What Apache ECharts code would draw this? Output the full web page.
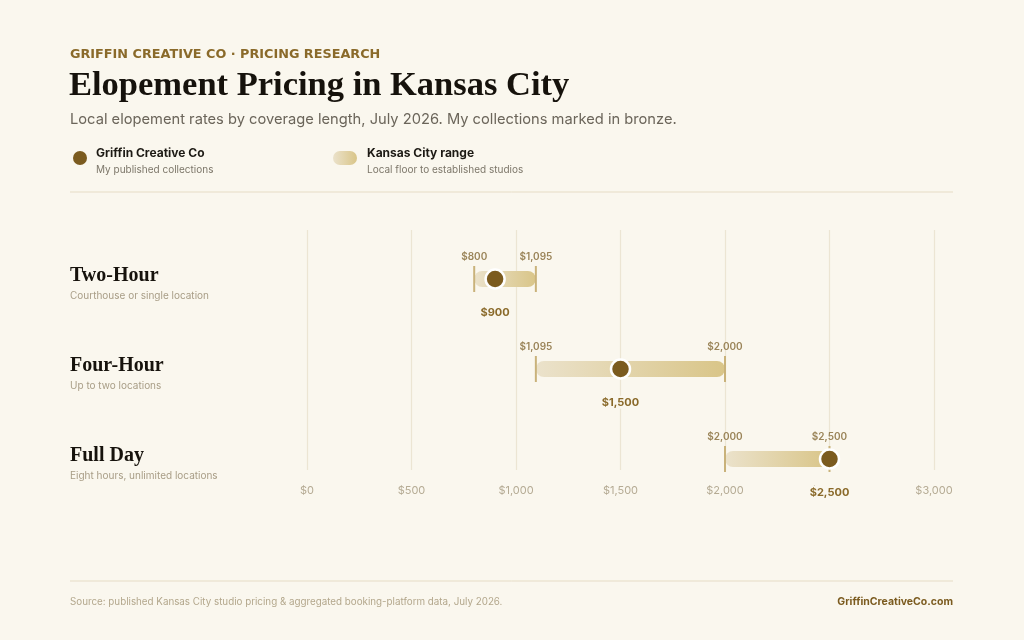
<!DOCTYPE html>
<html><head><meta charset="utf-8">
<script src="https://cdn.jsdelivr.net/npm/echarts@6/dist/echarts.min.js"></script>
<style>html,body{margin:0;padding:0;background:#faf7ee;}#c{width:1024px;height:640px;}</style>
</head><body><div id="c"></div>
<script>
const tiers = ['Two-Hour', 'Four-Hour', 'Full Day'];
const tierNotes = ['Courthouse or single location', 'Up to two locations', 'Eight hours, unlimited locations'];
const rangeLow = [800, 1095, 2000];
const rangeHigh = [1095, 2000, 2500];
const myPrice = [900, 1500, 2500];
const xTicks = [0, 500, 1000, 1500, 2000, 2500, 3000];

const SANS = 'Inter, "DejaVu Sans", sans-serif';
const SERIF = '"Liberation Serif", "DejaVu Serif", serif';
const BRONZE = '#7b5b1f';
const fmt = v => '$' + v.toLocaleString('en-US');
const capGrad = () => new echarts.graphic.LinearGradient(0, 0, 1, 0, [
  { offset: 0, color: '#ebe2cb' }, { offset: 1, color: '#d9c588' }]);

const chart = echarts.init(document.getElementById('c'), null, { renderer: 'canvas' });

const rangeData = tiers.map((t, i) => [i, rangeLow[i], rangeHigh[i]]);
const dotData = tiers.map((t, i) => [myPrice[i], i]);

chart.setOption({
  backgroundColor: '#faf7ee',
  animation: false,
  grid: { left: 307, right: 90, top: 230, bottom: 170 },
  xAxis: {
    type: 'value', min: xTicks[0], max: xTicks[xTicks.length - 1], interval: 500,
    axisLine: { show: false }, axisTick: { show: false },
    splitLine: { show: true, lineStyle: { color: '#ece5d3', width: 1.2 } },
    axisLabel: { color: '#b5ab94', fontFamily: SANS, fontSize: 11, margin: 15, formatter: v => fmt(v) }
  },
  yAxis: { type: 'value', inverse: true, min: -0.5444, max: 2.1222, show: false },
  graphic: [
    { type: 'text', left: 70, top: 48, style: { text: 'GRIFFIN CREATIVE CO · PRICING RESEARCH', fill: '#8a6a2a', font: 'bold 12.8px "DejaVu Sans", sans-serif' } },
    { type: 'text', left: 69, top: 69, style: { text: 'Elopement Pricing in Kansas City', fill: '#16120c', font: 'bold 34.5px ' + SERIF } },
    { type: 'text', left: 70, top: 112, style: { text: 'Local elopement rates by coverage length, July 2026. My collections marked in bronze.', fill: '#6b655a', font: '14.7px ' + SANS } },
    { type: 'circle', shape: { cx: 80, cy: 158, r: 7 }, style: { fill: BRONZE } },
    { type: 'text', left: 96, top: 147, style: { text: 'Griffin Creative Co', fill: '#1d1a14', font: 'bold 12px ' + SANS } },
    { type: 'text', left: 96, top: 165, style: { text: 'My published collections', fill: '#7d776a', font: '10px ' + SANS } },
    { type: 'rect', shape: { x: 333, y: 151, width: 24, height: 14, r: 7 }, style: { fill: capGrad() } },
    { type: 'text', left: 367, top: 147, style: { text: 'Kansas City range', fill: '#1d1a14', font: 'bold 12px ' + SANS } },
    { type: 'text', left: 367, top: 165, style: { text: 'Local floor to established studios', fill: '#7d776a', font: '10px ' + SANS } },
    { type: 'line', shape: { x1: 70, y1: 192, x2: 953, y2: 192 }, style: { stroke: '#e6dcc5', lineWidth: 1 } },
    { type: 'line', shape: { x1: 70, y1: 581, x2: 953, y2: 581 }, style: { stroke: '#e6dcc5', lineWidth: 1 } },
    { type: 'text', left: 70, top: 597, style: { text: 'Source: published Kansas City studio pricing & aggregated booking-platform data, July 2026.', fill: '#b3a78c', font: '9.8px ' + SANS } },
    { type: 'text', right: 71, top: 596, style: { text: 'GriffinCreativeCo.com', fill: BRONZE, font: 'bold 10.5px ' + SANS } }
  ],
  series: [
    {
      type: 'custom',
      data: rangeData,
      encode: { x: [1, 2], y: 0 },
      renderItem: function (params, api) {
        const i = api.value(0);
        const p0 = api.coord([api.value(1), i]);
        const p1 = api.coord([api.value(2), i]);
        const y = p0[1];
        const h = 16;
        return {
          type: 'group',
          children: [
            { type: 'rect', shape: { x: p0[0], y: y - h / 2, width: p1[0] - p0[0], height: h, r: h / 2 }, style: { fill: capGrad() } },
            { type: 'line', shape: { x1: p0[0], y1: y - 13, x2: p0[0], y2: y + 13 }, style: { stroke: '#c9b27a', lineWidth: 2 } },
            { type: 'line', shape: { x1: p1[0], y1: y - 13, x2: p1[0], y2: y + 13 }, style: { stroke: '#c9b27a', lineWidth: 2 } },
            { type: 'text', x: p0[0], y: y - 22, style: { text: fmt(api.value(1)), fill: '#9a8458', font: '600 10px ' + SANS, align: 'center', verticalAlign: 'middle' } },
            { type: 'text', x: p1[0], y: y - 22, style: { text: fmt(api.value(2)), fill: '#9a8458', font: '600 10px ' + SANS, align: 'center', verticalAlign: 'middle' } },
            { type: 'text', x: 70, y: y - 3, style: { text: tiers[i], fill: '#16120c', font: 'bold 20px ' + SERIF, align: 'left', verticalAlign: 'middle' } },
            { type: 'text', x: 70, y: y + 17, style: { text: tierNotes[i], fill: '#a89d86', font: '10px ' + SANS, align: 'left', verticalAlign: 'middle' } }
          ]
        };
      },
      z: 2
    },
    {
      type: 'scatter',
      data: dotData,
      symbol: 'circle',
      symbolSize: 19,
      itemStyle: { color: BRONZE, borderColor: '#ffffff', borderWidth: 2.5, opacity: 1 },
      label: {
        show: true, position: 'bottom', distance: 16,
        formatter: p => fmt(p.value[0]),
        color: '#8a6a2a', fontFamily: SANS, fontWeight: 'bold', fontSize: 11,
        backgroundColor: '#faf7ee', padding: [1, 2]
      },
      z: 5
    }
  ]
});
</script></body></html>
